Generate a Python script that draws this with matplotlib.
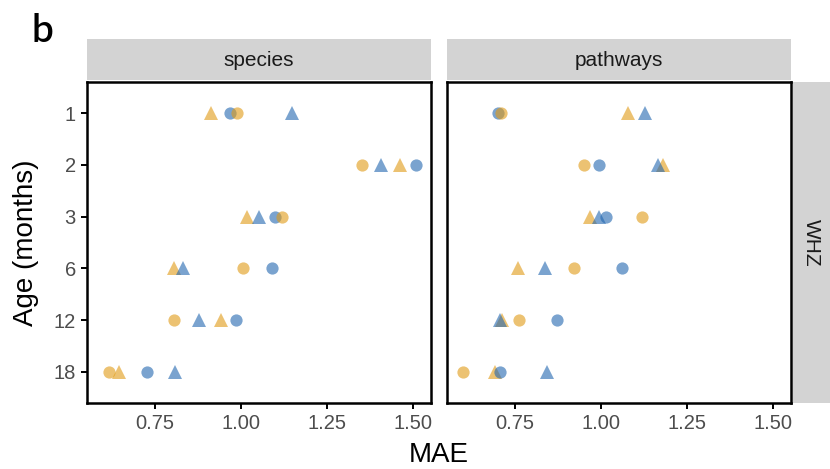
import matplotlib
matplotlib.use("Agg")
import matplotlib.pyplot as plt
from matplotlib.patches import Rectangle

plt.rcParams['font.family'] = ['Liberation Sans', 'DejaVu Sans']

ages = ["1", "2", "3", "6", "12", "18"]
panels = ["species", "pathways"]
row_label = "WHZ"
x_ticks = [0.75, 1.00, 1.25, 1.50]
x_tick_labels = ["0.75", "1.00", "1.25", "1.50"]

# species panel
sp_orange_circle = [0.988, 1.352, 1.118, 1.004, 0.805, 0.616]
sp_orange_tri    = [0.911, 1.460, 1.016, 0.806, 0.942, 0.645]
sp_blue_circle   = [0.966, 1.508, 1.097, 1.089, 0.985, 0.727]
sp_blue_tri      = [1.148, 1.406, 1.052, 0.831, 0.877, 0.808]

# pathways panel
pw_orange_circle = [0.709, 0.951, 1.117, 0.921, 0.761, 0.598]
pw_orange_tri    = [1.079, 1.180, 0.968, 0.757, 0.712, 0.690]
pw_blue_circle   = [0.701, 0.993, 1.013, 1.061, 0.872, 0.705]
pw_blue_tri      = [1.127, 1.166, 0.994, 0.837, 0.705, 0.842]

ORANGE = "#E09A14"
BLUE = "#2166B0"
ALPHA = 0.6
STRIP = "#D3D3D3"

fig = plt.figure(figsize=(8.3, 4.69), dpi=100)

W, H = 830, 469
def fx(px): return px / W
def fy(py): return 1 - py / H

panel_x = [87, 447]
panel_w = 344
top, bot = 82, 403

data = [
    (sp_orange_circle, sp_orange_tri, sp_blue_circle, sp_blue_tri),
    (pw_orange_circle, pw_orange_tri, pw_blue_circle, pw_blue_tri),
]

for i, (name, series) in enumerate(zip(panels, data)):
    ax = fig.add_axes([fx(panel_x[i]), fy(bot), panel_w / W, (bot - top) / H])
    oc, ot, bc, bt = series
    ax.plot(ot, ages, linestyle="none", marker="^", ms=10.5, color=ORANGE, alpha=ALPHA, mew=0)
    ax.plot(bt, ages, linestyle="none", marker="^", ms=10.5, color=BLUE, alpha=ALPHA, mew=0)
    ax.plot(bc, ages, linestyle="none", marker="o", ms=8.8, color=BLUE, alpha=ALPHA, mew=0)
    ax.plot(oc, ages, linestyle="none", marker="o", ms=8.8, color=ORANGE, alpha=ALPHA, mew=0)
    ax.set_ylim(5.6, -0.6)
    ax.set_xlim(0.552, 1.551)
    ax.set_xticks(x_ticks)
    ax.set_xticklabels(x_tick_labels)
    for s in ax.spines.values():
        s.set_linewidth(1.8)
        s.set_color("black")
    ax.tick_params(axis="both", length=4, width=1.4, color="black",
                   labelsize=14.5, labelcolor="#4D4D4D", pad=4)
    if i == 1:
        ax.tick_params(axis="y", left=False, labelleft=False)
    # top strip
    fig.add_artist(Rectangle((fx(panel_x[i]), fy(80)), panel_w / W, 41 / H,
                             transform=fig.transFigure, facecolor=STRIP,
                             edgecolor="none"))
    fig.text(fx(panel_x[i] + panel_w / 2), fy(60.5), name, ha="center", va="center",
             fontsize=15, color="#1A1A1A")

# right strip
fig.add_artist(Rectangle((fx(793), fy(bot)), 37 / W, (bot - top) / H,
                         transform=fig.transFigure, facecolor=STRIP, edgecolor="none"))
fig.text(fx(811.5), fy((top + bot) / 2), row_label, rotation=-90, ha="center",
         va="center", fontsize=15, color="#1A1A1A")

fig.text(fx((panel_x[0] + panel_x[1] + panel_w) / 2), fy(462), "MAE", ha="center",
         va="baseline", fontsize=20, color="black")
fig.text(fx(26), fy((top + bot) / 2), "Age (months)", rotation=90, ha="center",
         va="center", fontsize=20, color="black")
fig.text(fx(31), fy(42), "b", ha="left", va="baseline", fontsize=28,
         fontweight="semibold", family=["Lato", "DejaVu Sans"], color="black")

fig.savefig("out.png", dpi=100)
